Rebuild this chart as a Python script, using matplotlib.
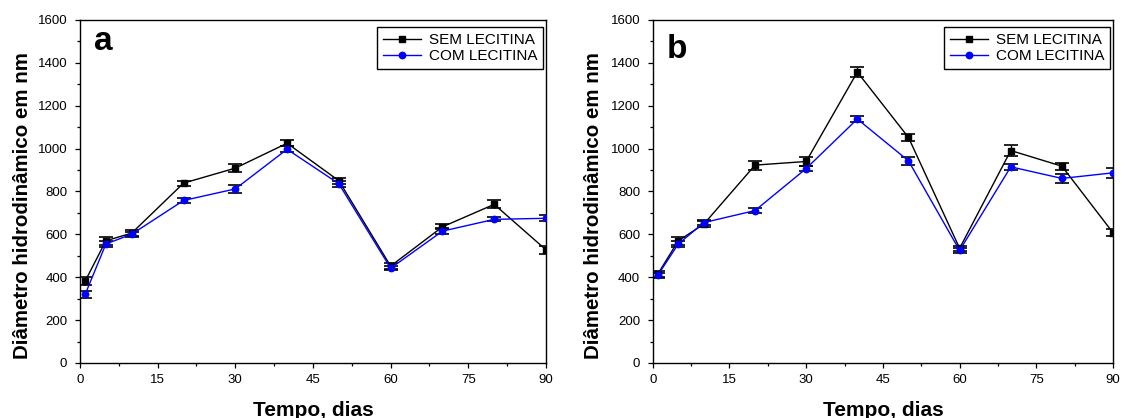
import matplotlib

matplotlib.use("Agg")
import matplotlib.pyplot as plt
from matplotlib.ticker import MultipleLocator

# tempo (dias)
DAYS = [1, 5, 10, 20, 30, 40, 50, 60, 70, 80, 90]

# painel a
A_SEM = [382, 570, 606, 839, 909, 1025, 850, 452, 635, 740, 528]
A_SEM_ERR = [20, 18, 14, 12, 19, 14, 15, 15, 12, 18, 18]
A_COM = [320, 555, 601, 758, 812, 997, 836, 442, 615, 670, 675]
A_COM_ERR = [17, 14, 12, 11, 17, 13, 14, 10, 15, 10, 15]

# painel b
B_SEM = [415, 570, 648, 923, 940, 1357, 1052, 535, 991, 918, 607]
B_SEM_ERR = [15, 18, 12, 21, 20, 22, 17, 12, 26, 16, 16]
B_COM = [410, 555, 655, 711, 907, 1138, 943, 525, 915, 861, 887]
B_COM_ERR = [12, 12, 10, 13, 12, 12, 20, 10, 15, 22, 23]

LABELS = ["SEM LECITINA", "COM LECITINA"]

plt.rcParams.update({
    "font.family": ["Liberation Sans", "DejaVu Sans"],
    "font.size": 9.5,
    "axes.linewidth": 1.0,
    "xtick.direction": "out",
    "ytick.direction": "out",
})

fig = plt.figure(figsize=(11.25, 4.18), dpi=100)
ax_a = fig.add_axes([0.0711, 0.1316, 0.4142, 0.8206])
ax_b = fig.add_axes([0.5802, 0.1316, 0.4092, 0.8206])


def panel(ax, sem, sem_err, com, com_err, letter, letter_y, ylab_x):
    # error bars (black for both series), then lines + markers on top
    for y, e in [(sem, sem_err), (com, com_err)]:
        ax.errorbar(DAYS, y, yerr=e, fmt="none", ecolor="black", elinewidth=1.0,
                    capsize=4.7, capthick=1.2, zorder=2)
    ax.plot(DAYS, sem, color="black", marker="s", markersize=4.2, lw=1.0,
            label=LABELS[0], zorder=3)
    ax.plot(DAYS, com, color="#0000ff", marker="o", markersize=4.6, lw=1.0,
            label=LABELS[1], zorder=4)
    ax.set_xlim(0, 90)
    ax.set_ylim(0, 1600)
    ax.xaxis.set_major_locator(MultipleLocator(15))
    ax.xaxis.set_minor_locator(MultipleLocator(7.5))
    ax.yaxis.set_major_locator(MultipleLocator(200))
    ax.yaxis.set_minor_locator(MultipleLocator(100))
    ax.tick_params(which="major", length=3.6, width=0.9, pad=4.3)
    ax.tick_params(which="minor", length=2.0, width=0.9)
    ax.tick_params(axis="y", which="major", pad=5.5)

    ax.set_xlabel("Tempo, dias", fontsize=15, fontweight="bold")
    ax.xaxis.label.set_va("baseline")
    ax.xaxis.set_label_coords(0.5, -0.155)
    ax.set_ylabel("Diâmetro hidrodinâmico em nm", fontsize=14.8, fontweight="bold")
    ax.yaxis.set_label_coords(ylab_x, 0.46)

    ax.text(0.03, letter_y, letter, transform=ax.transAxes, fontsize=24,
            fontweight="bold", ha="left", va="baseline")

    leg = ax.legend(loc="upper right", bbox_to_anchor=(0.994, 0.98), borderaxespad=0,
                    fontsize=11, frameon=True, fancybox=False, edgecolor="black",
                    framealpha=1, handlelength=2.5, handletextpad=0.5,
                    labelspacing=0.15, borderpad=0.4)
    leg.get_frame().set_linewidth(1.0)


panel(ax_a, A_SEM, A_SEM_ERR, A_COM, A_COM_ERR, "a", 0.9125, -0.103)
panel(ax_b, B_SEM, B_SEM_ERR, B_COM, B_COM_ERR, "b", 0.888, -0.108)

fig.savefig("out.png", dpi=100)
